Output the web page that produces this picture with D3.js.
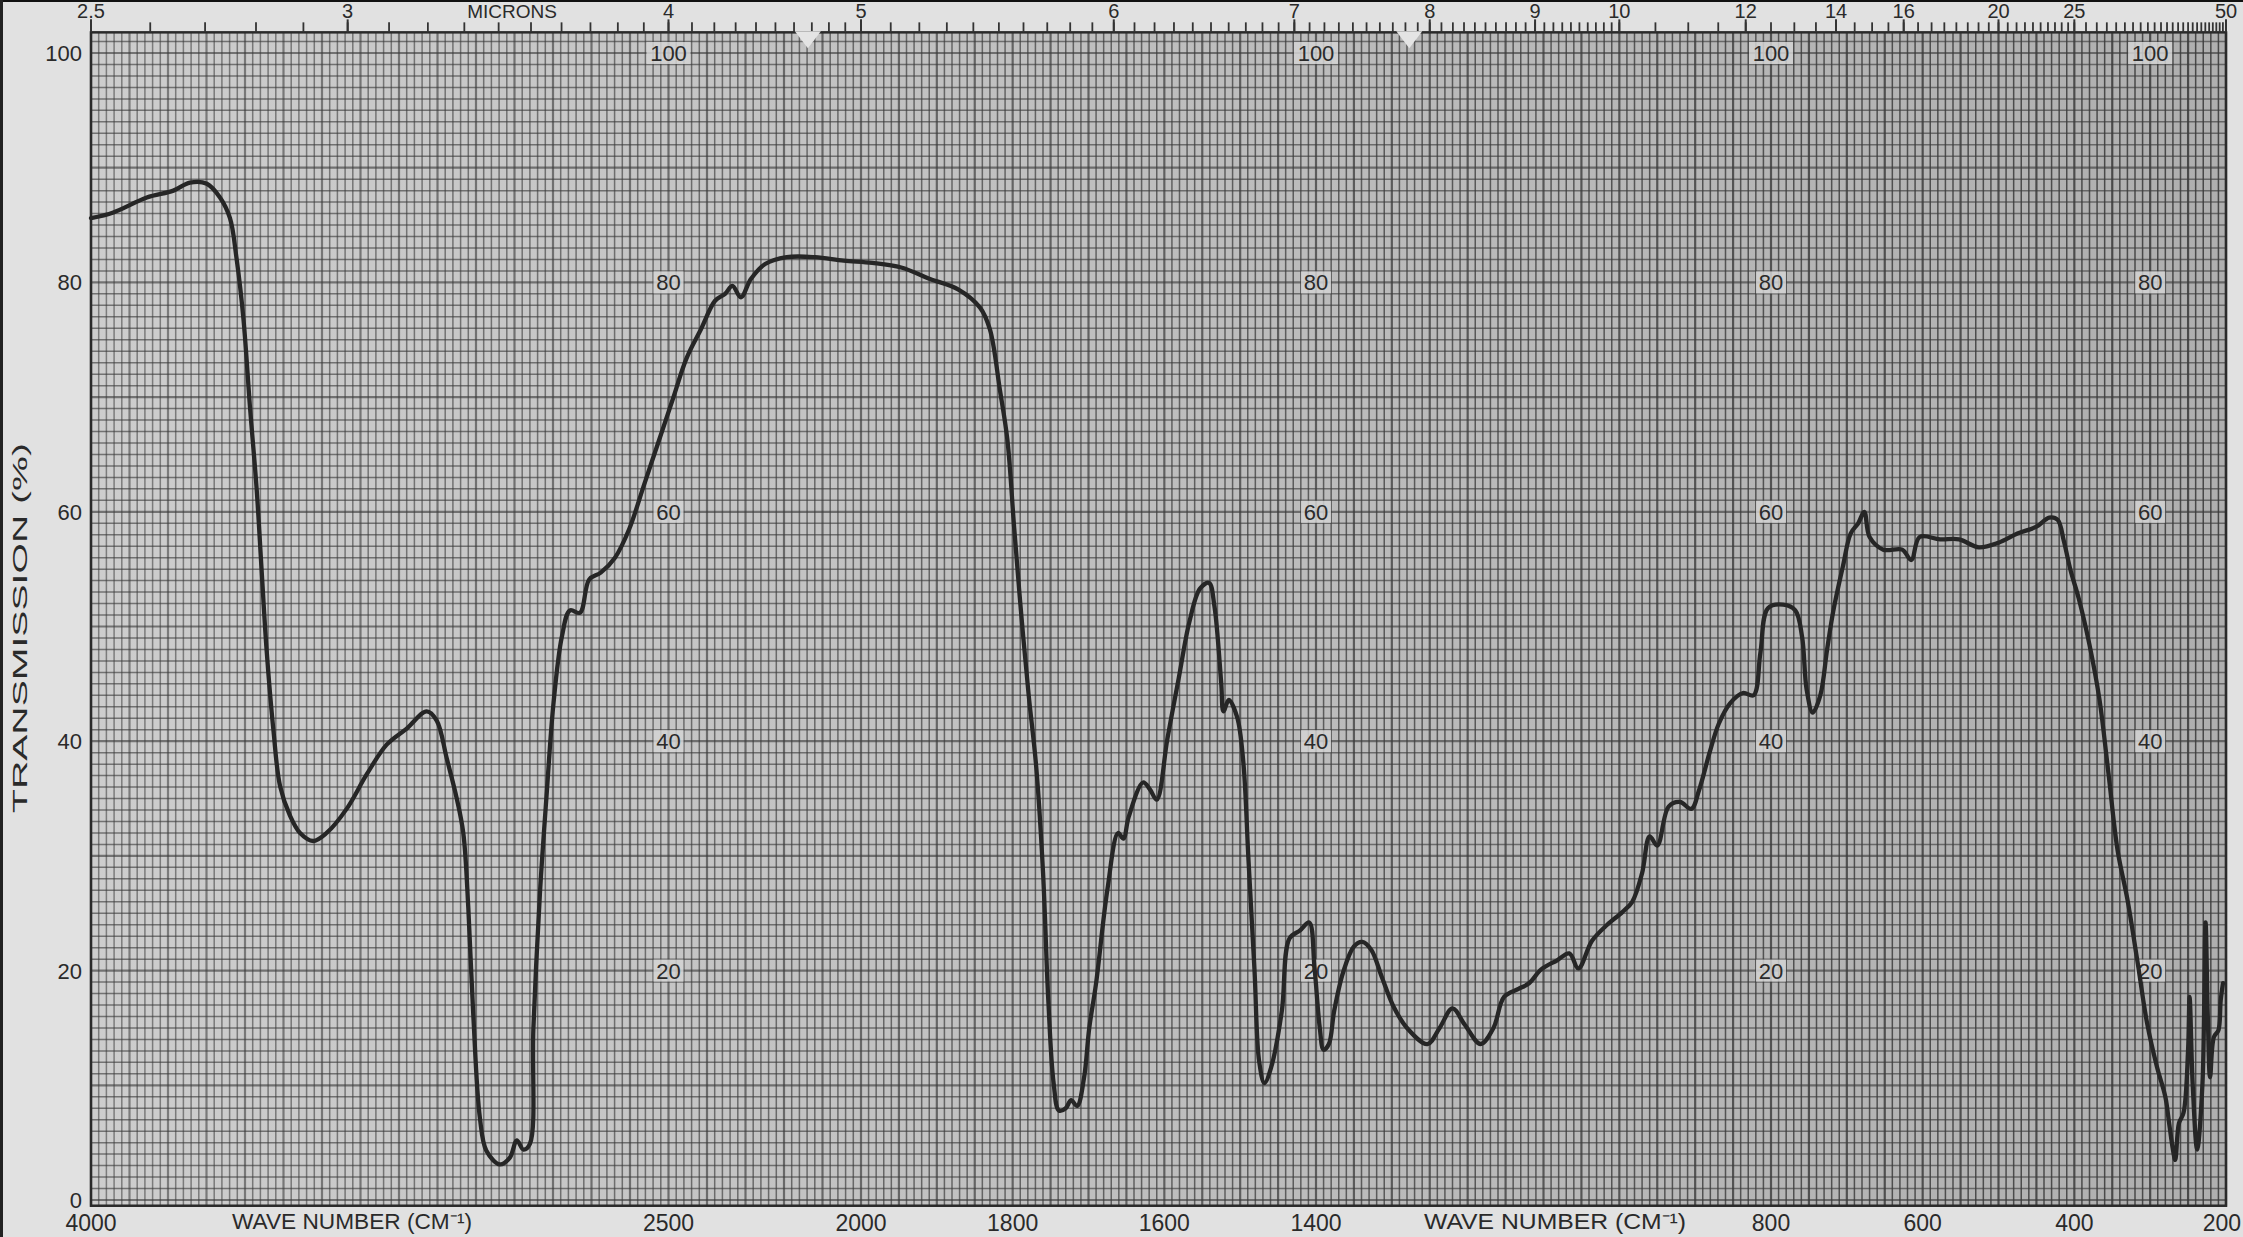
<!DOCTYPE html>
<html><head><meta charset="utf-8">
<script src="https://cdn.jsdelivr.net/npm/d3@7"></script>
<style>html,body{margin:0;padding:0;background:#e0e0e0;overflow:hidden}</style>
</head><body><svg id="c" width="2243" height="1237"></svg>
<script>
// ---- data ----
const wavenumbers = [4000,3942,3855,3786,3743,3699,3665,3639,3622,3604,3587,3570,3557,3544,3526,3509,3483,3457,3423,3388,3336,3284,3232,3180,3128,3102,3076,3050,3033,3020,3007,2990,2973,2938,2912,2894,2877,2860,2851,2834,2816,2799,2777,2756,2730,2706,2676,2639,2602,2565,2527,2490,2453,2416,2379,2353,2334,2312,2286,2249,2193,2119,2045,1985,1947,1909,1872,1843,1830,1817,1807,1798,1789,1779,1769,1760,1753,1746,1739,1730,1723,1715,1706,1699,1690,1675,1661,1654,1647,1628,1619,1610,1596,1581,1567,1553,1541,1534,1525,1522,1515,1504,1496,1489,1481,1475,1468,1459,1445,1435,1421,1409,1402,1395,1390,1383,1376,1364,1350,1339,1327,1313,1298,1280,1253,1237,1220,1204,1183,1166,1152,1133,1119,1103,1082,1066,1054,1036,1016,996,983,970,960,950,935,920,905,895,881,869,854,837,823,814,804,784,768,759,753,745,735,726,718,705,695,685,677,670,652,627,615,604,577,552,526,500,475,450,433,422,414,405,394,380,367,355,343,330,317,304,291,280,275,270,267,262,256,250,248,244,238,231,227,224,221,216,210,207,204];
const transmission = [85.6,86.1,87.4,88.0,88.7,88.6,87.4,85.6,82.1,76.8,69.1,62.1,55.0,48.0,40.9,36.1,33.5,32.0,31.3,32.0,34.1,37.1,39.7,41.1,42.6,41.8,38.5,35.0,32.0,25.5,16.1,7.2,4.3,3.1,3.7,5.2,4.4,4.9,14.9,26.7,35.6,43.2,49.1,51.4,51.2,54.1,54.7,56.0,58.5,62.2,66.0,69.7,73.4,75.9,78.4,79.0,79.7,78.7,80.3,81.6,82.2,82.2,81.9,81.7,81.3,80.3,79.4,77.8,75.9,70.7,66.3,58.6,51.3,44.1,37.8,28.6,17.4,10.2,7.8,8.0,8.7,8.2,10.6,15.0,18.9,27.1,32.0,31.5,33.4,36.4,35.8,34.9,40.2,45.5,50.4,53.3,53.8,51.8,45.1,42.6,43.6,42.1,38.3,29.6,19.9,12.1,10.2,11.6,16.5,22.8,23.5,24.2,20.3,15.0,13.1,13.6,16.5,19.9,22.1,22.5,21.8,19.4,16.9,15.0,13.6,15.0,16.7,15.3,13.6,15.0,17.7,18.4,18.9,20.1,20.9,21.5,20.2,22.6,24.0,25.1,26.0,28.5,31.7,30.9,34.3,34.7,34.1,35.7,39.0,41.5,43.3,44.2,44.0,47.7,51.6,51.9,51.4,49.1,44.5,42.5,44.0,48.0,51.3,55.3,58.1,59.0,60.0,57.8,56.7,56.7,55.8,57.8,57.6,57.6,56.9,57.3,58.1,58.7,59.5,59.3,57.5,54.9,52.4,48.4,43.7,37.2,30.5,26.2,20.9,15.4,11.6,9.0,6.7,4.4,3.5,6.7,7.6,13.1,17.7,10.2,4.4,10.2,24.2,16.0,10.7,14.2,14.8,17.4,18.9];

const yTickValues = [0,20,40,60,80,100];
const innerLabelColumns = [2500,1400,800,300];
const innerLabelValues = [100,80,60,40,20];
const wnTickLabels = [4000,2500,2000,1800,1600,1400,800,600,400,200];
const micronLabels = [2.5,3,4,5,6,7,8,9,10,12,14,16,20,25,50];
const notchWavenumbers = [2138,1277];

// ---- scales ----
const W = 2243, H = 1237;
const x = d3.scaleLinear().domain([4000,2000,200]).range([91,861,2226]);
const y = d3.scaleLinear().domain([0,100]).range([1200,53]);
const gridTop = y(101.8), gridBottom = y(-0.5), gridLeft = x(4000), gridRight = x(200);
const FONT = 'Liberation Sans, Arial, sans-serif';

const svg = d3.select('#c');
const defs = svg.append('defs');
const grad = defs.append('linearGradient').attr('id','bg').attr('x1','0').attr('x2','1').attr('y1','0').attr('y2','0');
grad.append('stop').attr('offset','0').attr('stop-color','#cdcdcd');
grad.append('stop').attr('offset','1').attr('stop-color','#afafaf');

svg.append('rect').attr('width',W).attr('height',H).attr('fill','#e1e1e1');
svg.append('rect').attr('x',gridLeft).attr('y',gridTop).attr('width',gridRight-gridLeft).attr('height',gridBottom-gridTop).attr('fill','url(#bg)');

const op = d3.scaleLinear().domain([gridLeft,gridRight]).range([0.55,0.88]);
const grid = svg.append('g');
// vertical grid lines
const vLines = d3.range(4000,2000,-20).concat(d3.range(2000,199,-10));
grid.selectAll('line.v').data(vLines).join('line')
  .attr('x1',d=>x(d)).attr('x2',d=>x(d)).attr('y1',gridTop).attr('y2',gridBottom)
  .attr('stroke','#3a3a3a')
  .attr('stroke-width',d=> (d>=2000 ? d%100===0 : d%50===0) ? 2.2 : 1.5)
  .attr('stroke-opacity',d=>op(x(d)));
// horizontal grid lines
const hLines = d3.range(0,102,1);
grid.selectAll('line.h').data(hLines).join('line')
  .attr('x1',gridLeft).attr('x2',gridRight).attr('y1',d=>y(d)).attr('y2',d=>y(d))
  .attr('stroke','#3a3a3a')
  .attr('stroke-width',d=> d%10===0 ? 2.2 : 1.5)
  .attr('stroke-opacity',0.62);
// border
svg.append('rect').attr('x',gridLeft).attr('y',gridTop).attr('width',gridRight-gridLeft).attr('height',gridBottom-gridTop)
  .attr('fill','none').attr('stroke','#2a2a2a').attr('stroke-width',2.5);

// scan edges
svg.append('rect').attr('x',0).attr('y',0).attr('width',W).attr('height',2).attr('fill','#111');
svg.append('rect').attr('x',0).attr('y',0).attr('width',3).attr('height',H).attr('fill','#222');

// top micron ticks
const micronTicks = d3.range(2.5,10.001,0.1).concat(d3.range(10.5,25.001,0.5)).concat(d3.range(26,50.001,1));
svg.append('g').selectAll('line').data(micronTicks).join('line')
  .attr('x1',d=>x(10000/d)).attr('x2',d=>x(10000/d))
  .attr('y1',gridTop-10).attr('y2',gridTop)
  .attr('stroke','#333').attr('stroke-width',1.8);
svg.append('g').selectAll('line').data(micronLabels).join('line')
  .attr('x1',d=>x(10000/d)).attr('x2',d=>x(10000/d))
  .attr('y1',gridTop-13).attr('y2',gridTop)
  .attr('stroke','#333').attr('stroke-width',2);
svg.append('g').selectAll('text').data(micronLabels).join('text')
  .attr('x',d=>x(10000/d)).attr('y',18).attr('text-anchor','middle')
  .attr('font-family',FONT).attr('font-size',20).attr('fill','#2a2a2a')
  .text(d=>d);
svg.append('text').attr('x',512).attr('y',18).attr('text-anchor','middle')
  .attr('font-family',FONT).attr('font-size',19).attr('fill','#2a2a2a')
  .text('MICRONS');

// notches
svg.append('g').selectAll('path').data(notchWavenumbers).join('path')
  .attr('d',d=>{const cx=x(d);return `M${cx-13},${gridTop-1} L${cx+13},${gridTop-1} L${cx},${gridTop+16} Z`;})
  .attr('fill','#e4e4e4');

// left y labels
svg.append('g').selectAll('text').data(yTickValues).join('text')
  .attr('x',82).attr('y',d=>y(d)+8).attr('text-anchor','end')
  .attr('font-family',FONT).attr('font-size',22).attr('fill','#2a2a2a')
  .text(d=>d);

// inner labels
const inner = [];
innerLabelColumns.forEach(c=>innerLabelValues.forEach(v=>inner.push({c,v})));
const ig = svg.append('g');
ig.selectAll('rect').data(inner).join('rect')
  .attr('x',d=>x(d.c)-(d.v===100?22:15)).attr('y',d=>y(d.v)-11)
  .attr('width',d=>d.v===100?44:30).attr('height',22).attr('fill','#d4d4d4').attr('fill-opacity',0.85);
ig.selectAll('text').data(inner).join('text')
  .attr('x',d=>x(d.c)).attr('y',d=>y(d.v)+8).attr('text-anchor','middle')
  .attr('font-family',FONT).attr('font-size',22).attr('fill','#2a2a2a')
  .text(d=>d.v);

// bottom wavenumber labels
svg.append('g').selectAll('text').data(wnTickLabels).join('text')
  .attr('x',d=> d===200 ? 2241 : x(d)).attr('y',1231)
  .attr('text-anchor',d=> d===200 ? 'end' : 'middle')
  .attr('font-family',FONT).attr('font-size',23).attr('fill','#2a2a2a')
  .text(d=>d);
[[352,240],[1555,262]].forEach(([cx,len])=>{
  svg.append('text').attr('x',cx).attr('y',1229).attr('text-anchor','middle')
    .attr('font-family',FONT).attr('font-size',22).attr('fill','#2a2a2a')
    .attr('textLength',len).attr('lengthAdjust','spacingAndGlyphs')
    .text('WAVE NUMBER (CM\u207B\u00B9)');
});

// y title
svg.append('text').attr('transform','translate(27,628) rotate(-90)').attr('text-anchor','middle')
  .attr('font-family',FONT).attr('font-size',21).attr('fill','#2a2a2a')
  .attr('textLength',370).attr('lengthAdjust','spacingAndGlyphs')
  .text('TRANSMISSION (%)');

// spectrum
const pts = wavenumbers.map((w,i)=>[w,transmission[i]]);
const line = d3.line().x(d=>x(d[0])).y(d=>y(d[1])).curve(d3.curveCatmullRom.alpha(0.5));
svg.append('path').datum(pts).attr('d',line)
  .attr('fill','none').attr('stroke','#262626').attr('stroke-width',4.3)
  .attr('stroke-linejoin','round').attr('stroke-linecap','round');
</script></body></html>
